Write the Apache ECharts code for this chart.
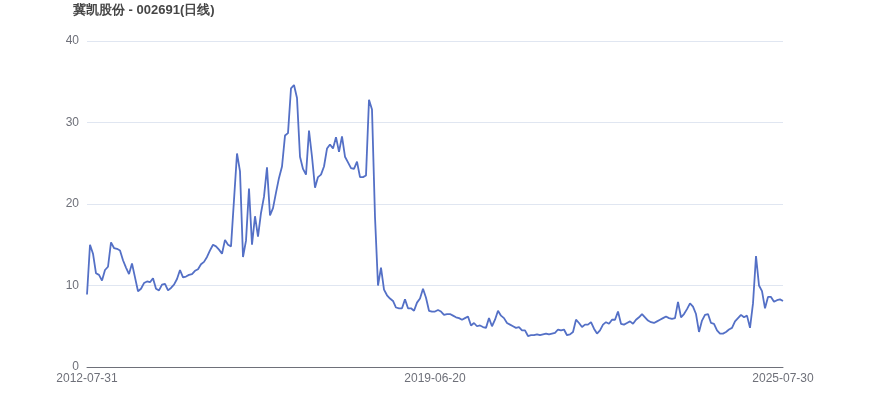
<!DOCTYPE html>
<html>
<head>
<meta charset="utf-8">
<script src="https://cdn.jsdelivr.net/npm/echarts@6/dist/echarts.min.js"></script>
<style>html,body{margin:0;padding:0;background:#fff;}#c{width:870px;height:417px;}</style>
</head>
<body>
<div id="c"></div>
<script>
var titleText = '冀凯股份 - 002691(日线)';
var anchorDates = ['2012-07-31', '2019-06-20', '2025-07-30'];
var yTicks = [0, 10, 20, 30, 40];
var closePrices = [
 8.9, 15.0, 13.9, 11.5, 11.3, 10.6, 11.9, 12.3, 15.3, 14.6,
 14.5, 14.3, 13.1, 12.2, 11.4, 12.7, 11.0, 9.3, 9.6, 10.3,
 10.5, 10.4, 10.9, 9.6, 9.4, 10.1, 10.2, 9.4, 9.7, 10.1,
 10.8, 11.9, 11.0, 11.1, 11.3, 11.4, 11.8, 12.0, 12.6, 12.9,
 13.5, 14.3, 15.0, 14.8, 14.4, 13.9, 15.6, 15.0, 14.8, 20.5,
 26.2, 24.0, 13.5, 15.5, 21.9, 15.0, 18.5, 16.0, 18.9, 20.9,
 24.5, 18.6, 19.5, 21.4, 23.2, 24.6, 28.4, 28.7, 34.2, 34.6,
 33.0, 25.8, 24.3, 23.6, 29.0, 25.8, 22.0, 23.3, 23.6, 24.6,
 26.8, 27.3, 26.8, 28.2, 26.4, 28.3, 25.8, 25.1, 24.4, 24.3,
 25.2, 23.3, 23.3, 23.5, 32.8, 31.6, 18.4, 10.0, 12.2, 9.5,
 8.8, 8.4, 8.1, 7.3, 7.2, 7.2, 8.3, 7.2, 7.2, 6.9,
 7.9, 8.4, 9.6, 8.5, 6.9, 6.8, 6.8, 7.0, 6.8, 6.4,
 6.5, 6.5, 6.3, 6.1, 6.0, 5.8, 6.0, 6.2, 5.1, 5.4,
 5.0, 5.1, 4.9, 4.8, 6.0, 5.0, 5.8, 6.9, 6.3, 6.0,
 5.4, 5.2, 5.0, 4.8, 4.9, 4.5, 4.5, 3.8, 3.9, 3.9,
 4.0, 3.9, 4.0, 4.1, 4.0, 4.1, 4.2, 4.6, 4.5, 4.6,
 3.9, 4.0, 4.3, 5.8, 5.4, 4.9, 5.2, 5.2, 5.5, 4.7,
 4.1, 4.5, 5.2, 5.5, 5.3, 5.8, 5.8, 6.8, 5.3, 5.2,
 5.4, 5.6, 5.3, 5.8, 6.1, 6.5, 6.1, 5.7, 5.5, 5.4,
 5.6, 5.8, 6.0, 6.2, 6.0, 5.9, 6.0, 8.0, 6.1, 6.5,
 7.1, 7.8, 7.4, 6.5, 4.3, 5.7, 6.4, 6.5, 5.4, 5.3,
 4.5, 4.1, 4.1, 4.3, 4.6, 4.8, 5.6, 6.0, 6.4, 6.1,
 6.3, 4.8, 7.8, 13.6, 10.0, 9.3, 7.2, 8.6, 8.6, 8.0,
 8.2, 8.3, 8.1
];

// category labels: dates spread between the anchor dates
function fmt(d){var m=d.getUTCMonth()+1, day=d.getUTCDate();return d.getUTCFullYear()+'-'+(m<10?'0':'')+m+'-'+(day<10?'0':'')+day;}
var n = closePrices.length, half = (n - 1) / 2;
var categories = [];
for (var i = 0; i < n; i++) {
  var a, b, t;
  if (i <= half) { a = new Date(anchorDates[0]); b = new Date(anchorDates[1]); t = i / half; }
  else { a = new Date(anchorDates[1]); b = new Date(anchorDates[2]); t = (i - half) / half; }
  var d = new Date(a.getTime() + (b.getTime() - a.getTime()) * t);
  categories.push(fmt(d));
}
categories[0] = anchorDates[0]; categories[half] = anchorDates[1]; categories[n - 1] = anchorDates[2];

var chart = echarts.init(document.getElementById('c'));
chart.setOption({
  animation: false,
  title: {
    text: titleText, left: 68, top: -1,
    textStyle: { fontSize: 13, fontWeight: 'bold', color: '#464646', fontFamily: 'Arial, Liberation Sans, sans-serif' }
  },
  grid: { left: 87, right: 87, top: 41, bottom: 50 },
  xAxis: {
    type: 'category', data: categories, boundaryGap: false,
    axisTick: { show: false },
    axisLine: { lineStyle: { color: '#6E7079' } },
    axisLabel: { interval: half - 1, color: '#6E7079', fontSize: 12, margin: 6 }
  },
  yAxis: {
    type: 'value', min: yTicks[0], max: yTicks[yTicks.length - 1], interval: 10,
    axisLabel: { color: '#6E7079', fontSize: 12 },
    splitLine: { lineStyle: { color: '#E0E6F1' } }
  },
  series: [{
    type: 'line', data: closePrices, showSymbol: false,
    lineStyle: { color: '#5470c6', width: 1.8 },
    itemStyle: { color: '#5470c6' }
  }]
});
</script>
</body>
</html>
